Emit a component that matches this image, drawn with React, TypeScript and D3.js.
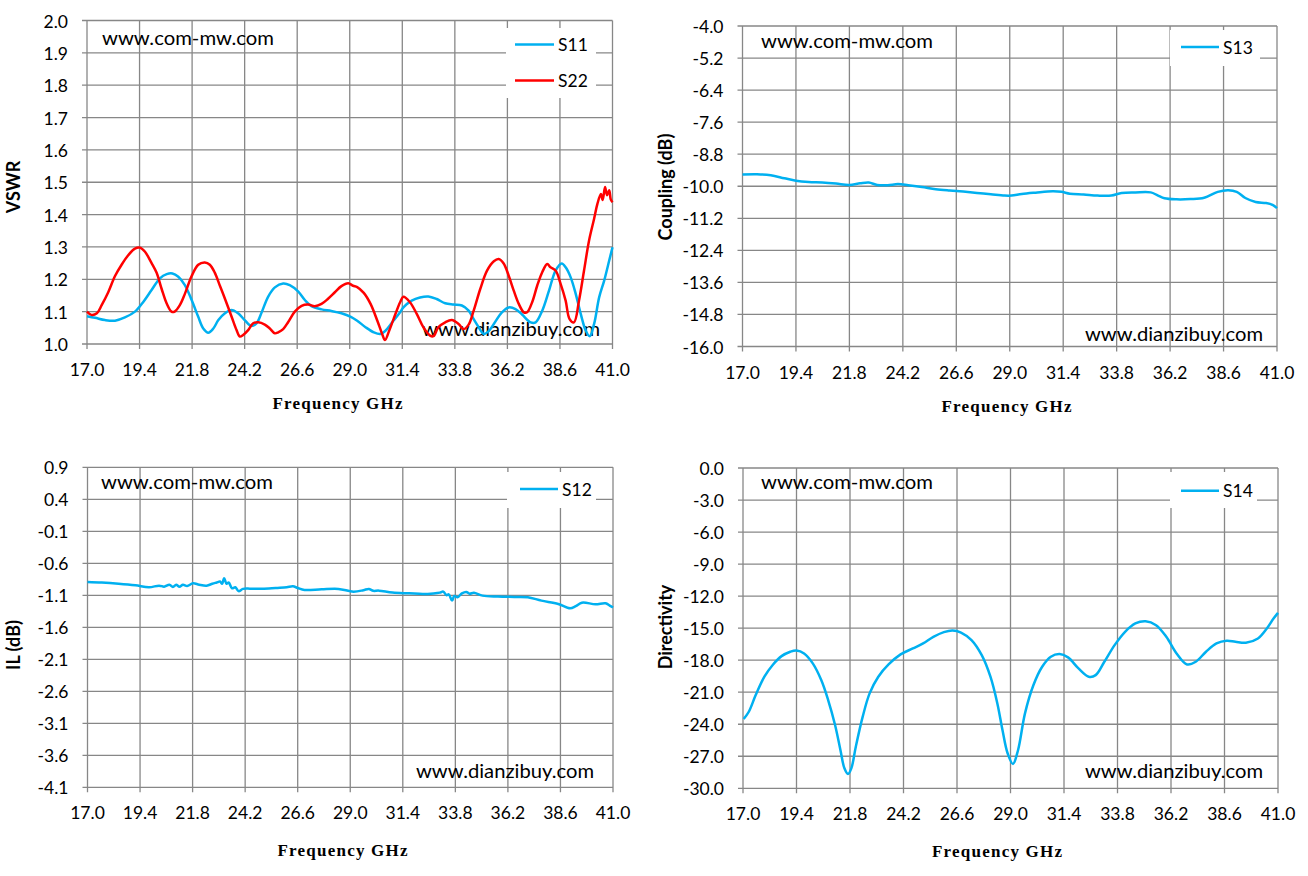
import React from 'react';
import * as d3 from 'd3';

// ---------- DATA ----------
const FREQ_TICKS = [17.0, 19.4, 21.8, 24.2, 26.6, 29.0, 31.4, 33.8, 36.2, 38.6, 41.0];
const VSWR_TICKS = [1.0, 1.1, 1.2, 1.3, 1.4, 1.5, 1.6, 1.7, 1.8, 1.9, 2.0];
const COUPLING_TICKS = [-16.0, -14.8, -13.6, -12.4, -11.2, -10.0, -8.8, -7.6, -6.4, -5.2, -4.0];
const IL_TICKS = [-4.1, -3.6, -3.1, -2.6, -2.1, -1.6, -1.1, -0.6, -0.1, 0.4, 0.9];
const DIR_TICKS = [-30.0, -27.0, -24.0, -21.0, -18.0, -15.0, -12.0, -9.0, -6.0, -3.0, 0.0];

const S11: [number, number][] = [
  [17.0, 1.086], [17.37, 1.081], [17.82, 1.074], [18.28, 1.072], [18.73, 1.082], [19.19, 1.1],
  [19.57, 1.13], [19.95, 1.167], [20.33, 1.203], [20.64, 1.216], [20.9, 1.218], [21.17, 1.208],
  [21.47, 1.182], [21.78, 1.136], [22.08, 1.084], [22.31, 1.048], [22.54, 1.035], [22.77, 1.048],
  [23.0, 1.074], [23.3, 1.095], [23.6, 1.105], [23.9, 1.095], [24.2, 1.074], [24.5, 1.056],
  [24.74, 1.064], [24.96, 1.095], [25.27, 1.146], [25.58, 1.175], [25.96, 1.187], [26.26, 1.182],
  [26.65, 1.162], [26.95, 1.136], [27.25, 1.117], [27.71, 1.107], [28.16, 1.102], [28.62, 1.095],
  [29.05, 1.084], [29.34, 1.072], [29.72, 1.052], [30.1, 1.036], [30.4, 1.031], [30.63, 1.041],
  [30.94, 1.067], [31.3, 1.098], [31.45, 1.113], [31.83, 1.134], [32.21, 1.144], [32.59, 1.147],
  [32.97, 1.139], [33.36, 1.126], [33.74, 1.122], [34.12, 1.119], [34.43, 1.103], [34.66, 1.077],
  [34.89, 1.052], [35.12, 1.031], [35.35, 1.04], [35.58, 1.062], [35.95, 1.098], [36.26, 1.113],
  [36.57, 1.108], [36.87, 1.091], [37.26, 1.067], [37.49, 1.067], [37.79, 1.103], [38.1, 1.165],
  [38.4, 1.227], [38.68, 1.249], [38.86, 1.237], [39.09, 1.206], [39.32, 1.155], [39.55, 1.093],
  [39.78, 1.041], [39.96, 1.024], [40.16, 1.062], [40.39, 1.144], [40.62, 1.196], [40.85, 1.258],
  [41.0, 1.299],
];

const S22: [number, number][] = [
  [17.0, 1.1], [17.2, 1.09], [17.45, 1.095], [17.67, 1.12], [17.97, 1.16], [18.28, 1.21],
  [18.58, 1.245], [18.89, 1.275], [19.19, 1.295], [19.42, 1.298], [19.65, 1.285], [19.95, 1.25],
  [20.18, 1.22], [20.41, 1.17], [20.64, 1.125], [20.86, 1.1], [21.0, 1.1], [21.24, 1.12],
  [21.47, 1.155], [21.78, 1.21], [22.08, 1.245], [22.38, 1.252], [22.61, 1.245], [22.84, 1.22],
  [23.07, 1.18], [23.3, 1.14], [23.6, 1.085], [23.83, 1.043], [23.98, 1.023], [24.13, 1.028],
  [24.36, 1.043], [24.59, 1.064], [24.82, 1.067], [25.12, 1.06], [25.35, 1.048], [25.58, 1.033],
  [25.73, 1.036], [25.96, 1.046], [26.19, 1.068], [26.49, 1.1], [26.8, 1.118], [27.1, 1.122],
  [27.4, 1.117], [27.71, 1.124], [28.01, 1.14], [28.32, 1.16], [28.62, 1.179], [28.93, 1.188],
  [29.15, 1.18], [29.34, 1.176], [29.64, 1.158], [29.95, 1.124], [30.26, 1.072], [30.48, 1.031],
  [30.61, 1.012], [30.8, 1.041], [31.0, 1.077], [31.3, 1.129], [31.45, 1.146], [31.75, 1.129],
  [32.06, 1.093], [32.36, 1.052], [32.67, 1.026], [32.82, 1.024], [33.05, 1.052], [33.36, 1.067],
  [33.66, 1.074], [33.97, 1.062], [34.2, 1.046], [34.43, 1.06], [34.66, 1.103], [34.96, 1.17],
  [35.27, 1.227], [35.58, 1.256], [35.8, 1.263], [36.03, 1.249], [36.26, 1.211], [36.49, 1.165],
  [36.72, 1.124], [36.95, 1.098], [37.1, 1.098], [37.33, 1.129], [37.56, 1.18], [37.79, 1.222],
  [38.02, 1.247], [38.17, 1.237], [38.4, 1.227], [38.63, 1.186], [38.86, 1.134], [39.04, 1.077],
  [39.24, 1.067], [39.47, 1.134], [39.7, 1.227], [39.93, 1.32], [40.16, 1.387], [40.31, 1.433],
  [40.47, 1.464], [40.55, 1.445], [40.66, 1.485], [40.75, 1.46], [40.85, 1.475], [40.92, 1.447],
  [41.0, 1.438],
];

const S13: [number, number][] = [
  [17.0, -9.56], [17.65, -9.55], [18.27, -9.59], [18.88, -9.7], [19.4, -9.79], [19.97, -9.84],
  [20.58, -9.86], [21.2, -9.9], [21.79, -9.95], [22.28, -9.89], [22.67, -9.86], [23.05, -9.95],
  [23.52, -9.96], [23.98, -9.92], [24.44, -9.96], [25.06, -10.03], [25.68, -10.11], [26.3, -10.16],
  [26.91, -10.2], [27.53, -10.25], [28.15, -10.3], [28.77, -10.35], [29.08, -10.35], [29.54, -10.29],
  [30.16, -10.24], [30.93, -10.19], [31.32, -10.21], [31.7, -10.28], [32.32, -10.31], [32.94, -10.35],
  [33.56, -10.35], [34.02, -10.25], [34.64, -10.23], [35.33, -10.23], [35.64, -10.34], [35.95, -10.45],
  [36.49, -10.49], [37.11, -10.48], [37.73, -10.43], [38.34, -10.21], [38.81, -10.15], [39.19, -10.21],
  [39.58, -10.44], [40.04, -10.59], [40.51, -10.63], [40.8, -10.7], [41.0, -10.82],
];

const S12: [number, number][] = [
  [17.0, -0.892], [17.65, -0.9], [18.42, -0.918], [19.19, -0.944], [19.81, -0.975], [20.27, -0.949],
  [20.5, -0.965], [20.74, -0.935], [20.9, -0.97], [21.05, -0.935], [21.2, -0.965], [21.36, -0.935],
  [21.55, -0.955], [21.82, -0.913], [22.1, -0.935], [22.44, -0.949], [22.7, -0.92], [22.9, -0.9],
  [23.05, -0.885], [23.15, -0.92], [23.24, -0.834], [23.35, -0.92], [23.45, -0.9], [23.6, -0.99],
  [23.75, -0.975], [23.9, -1.035], [24.1, -1.0], [24.44, -0.996], [25.06, -0.996], [25.68, -0.985],
  [26.1, -0.975], [26.38, -0.96], [26.6, -0.985], [26.91, -1.017], [27.69, -1.006], [28.46, -1.0],
  [29.15, -1.043], [29.6, -1.02], [29.85, -1.0], [30.05, -1.03], [30.31, -1.027], [30.93, -1.058],
  [31.7, -1.069], [32.32, -1.079], [32.8, -1.07], [33.09, -1.058], [33.25, -1.043], [33.4, -1.1],
  [33.5, -1.085], [33.65, -1.183], [33.75, -1.11], [33.9, -1.13], [34.1, -1.07], [34.3, -1.048],
  [34.45, -1.075], [34.65, -1.06], [35.04, -1.105], [35.74, -1.12], [36.49, -1.126], [37.11, -1.131],
  [37.73, -1.183], [38.5, -1.235], [39.04, -1.303], [39.3, -1.27], [39.58, -1.215], [40.2, -1.24],
  [40.66, -1.225], [40.85, -1.26], [41.0, -1.29],
];

const S14: [number, number][] = [
  [17.03, -23.51], [17.26, -22.83], [17.57, -21.27], [17.96, -19.55], [18.35, -18.4], [18.73, -17.62],
  [19.12, -17.21], [19.4, -17.09], [19.74, -17.37], [20.13, -18.3], [20.51, -19.86], [20.82, -21.73],
  [21.13, -24.07], [21.37, -26.41], [21.55, -28.13], [21.71, -28.66], [21.86, -28.13], [22.06, -26.1],
  [22.37, -23.29], [22.68, -21.11], [23.07, -19.55], [23.53, -18.4], [24.07, -17.46], [24.62, -16.9],
  [25.08, -16.43], [25.54, -15.81], [26.01, -15.37], [26.4, -15.22], [26.78, -15.41], [27.25, -16.12],
  [27.71, -17.53], [28.1, -19.55], [28.41, -22.05], [28.64, -24.54], [28.87, -26.72], [29.11, -27.72],
  [29.34, -26.41], [29.65, -22.98], [30.03, -20.33], [30.42, -18.62], [30.81, -17.68], [31.2, -17.43],
  [31.58, -17.74], [32.05, -18.77], [32.51, -19.55], [32.82, -19.4], [33.21, -18.15], [33.67, -16.59],
  [34.14, -15.34], [34.6, -14.56], [35.06, -14.35], [35.53, -14.72], [35.99, -15.81], [36.45, -17.37],
  [36.92, -18.4], [37.31, -18.15], [37.77, -17.21], [38.24, -16.43], [38.7, -16.18], [39.09, -16.28],
  [39.56, -16.37], [40.1, -15.97], [40.5, -15.03], [40.8, -14.1], [41.0, -13.57],
];

// ---------- STYLE / LAYOUT ----------
const BLUE = '#00B0F0';
const RED = '#FF0000';
const GRID = '#878787';
const SANS = 'Lato, "Open Sans", "DejaVu Sans", sans-serif';
const SERIF = '"Liberation Serif", "DejaVu Serif", serif';

type Series = { name: string; color: string; data: [number, number][] };
type PanelProps = {
  box: { l: number; r: number; t: number; b: number };
  yTicks: number[];
  yTitle: string;
  yTitlePos: [number, number];
  xTitlePos: [number, number];
  series: Series[];
  legend: { x: number; y: number; w: number; h: number; lx1: number; lx2: number; tx: number; ys: number[] };
  wm1: [number, number];
  wm2: [number, number];
};

function Panel(p: PanelProps) {
  const { box } = p;
  const x = d3.scaleLinear().domain([17, 41]).range([box.l, box.r]);
  const y = d3
    .scaleLinear()
    .domain([p.yTicks[0], p.yTicks[p.yTicks.length - 1]])
    .range([box.b, box.t]);
  const line = d3
    .line<[number, number]>()
    .x((d) => x(d[0]))
    .y((d) => y(d[1]))
    .curve(d3.curveCatmullRom.alpha(0.5));

  return (
    <g>
      {p.yTicks.map((t, i) => (
        <g key={'y' + i}>
          <line x1={box.l - 5} x2={box.r} y1={y(t)} y2={y(t)} stroke={GRID} strokeWidth={1.3} />
          <text x={box.l - 19} y={y(t) + 7} textAnchor="end" fontFamily={SANS} fontSize={17.5} fill="#000">
            {t.toFixed(1)}
          </text>
        </g>
      ))}
      {FREQ_TICKS.map((t, i) => (
        <g key={'x' + i}>
          <line x1={x(t)} x2={x(t)} y1={box.t} y2={box.b + 5} stroke={GRID} strokeWidth={1.3} />
          <text x={x(t)} y={box.b + 32} textAnchor="middle" fontFamily={SANS} fontSize={17.5} fill="#000">
            {t.toFixed(1)}
          </text>
        </g>
      ))}
      <rect x={p.legend.x} y={p.legend.y} width={p.legend.w} height={p.legend.h} fill="#fff" />
      <text x={p.wm1[0]} y={p.wm1[1]} fontFamily={SANS} fontSize={20} textLength={172} lengthAdjust="spacingAndGlyphs" fill="#000">
        www.com-mw.com
      </text>
      <text x={p.wm2[0]} y={p.wm2[1]} fontFamily={SANS} fontSize={20} textLength={178} lengthAdjust="spacingAndGlyphs" fill="#000">
        www.dianzibuy.com
      </text>
      {p.series.map((s) => (
        <path key={s.name} d={line(s.data) || ''} fill="none" stroke={s.color} strokeWidth={2.5} strokeLinejoin="round" />
      ))}
      {p.series.map((s, i) => (
        <g key={'lg' + s.name}>
          <line x1={p.legend.lx1} x2={p.legend.lx2} y1={p.legend.ys[i]} y2={p.legend.ys[i]} stroke={s.color} strokeWidth={2.5} />
          <text x={p.legend.tx} y={p.legend.ys[i] + 6.5} fontFamily={SANS} fontSize={17.5} fill="#000">
            {s.name}
          </text>
        </g>
      ))}
      <text
        x={p.xTitlePos[0]}
        y={p.xTitlePos[1]}
        fontFamily={SERIF}
        fontWeight="bold"
        fontSize={17}
        textLength={130}
        lengthAdjust="spacing"
        fill="#000"
      >
        Frequency GHz
      </text>
      <text
        transform={`translate(${p.yTitlePos[0]},${p.yTitlePos[1]}) rotate(-90)`}
        textAnchor="middle"
        fontFamily={SANS}
        fontWeight="bold"
        fontSize={18}
        fill="#000"
      >
        {p.yTitle}
      </text>
    </g>
  );
}

export default function App() {
  return (
    <svg
      width={1308}
      height={876}
      viewBox="0 0 1308 876"
      style={{ position: 'absolute', left: 0, top: 0, background: '#fff' }}
    >
      <rect x={0} y={0} width={1308} height={876} fill="#fff" />
      <Panel
        box={{ l: 87, r: 612.5, t: 20.5, b: 344 }}
        yTicks={VSWR_TICKS}
        yTitle="VSWR"
        yTitlePos={[19.5, 187]}
        xTitlePos={[272.5, 409]}
        series={[
          { name: 'S11', color: BLUE, data: S11 },
          { name: 'S22', color: RED, data: S22 },
        ]}
        legend={{ x: 506, y: 28, w: 90, h: 70, lx1: 515, lx2: 554, tx: 558, ys: [44.6, 80.5] }}
        wm1={[102, 45]}
        wm2={[422, 335.7]}
      />
      <Panel
        box={{ l: 742.5, r: 1277, t: 26, b: 346.5 }}
        yTicks={COUPLING_TICKS}
        yTitle="Coupling (dB)"
        yTitlePos={[672, 187]}
        xTitlePos={[941.5, 412]}
        series={[{ name: 'S13', color: BLUE, data: S13 }]}
        legend={{ x: 1170, y: 30, w: 90, h: 36, lx1: 1181, lx2: 1219, tx: 1223, ys: [47] }}
        wm1={[761, 48]}
        wm2={[1085, 340.6]}
      />
      <Panel
        box={{ l: 87.5, r: 613, t: 467.3, b: 787.3 }}
        yTicks={IL_TICKS}
        yTitle="IL (dB)"
        yTitlePos={[19.5, 645]}
        xTitlePos={[277.5, 856]}
        series={[{ name: 'S12', color: BLUE, data: S12 }]}
        legend={{ x: 507, y: 472, w: 89, h: 36, lx1: 520, lx2: 558, tx: 562, ys: [489] }}
        wm1={[101, 489]}
        wm2={[416, 777.7]}
      />
      <Panel
        box={{ l: 743, r: 1278, t: 468, b: 788.3 }}
        yTicks={DIR_TICKS}
        yTitle="Directivity"
        yTitlePos={[672, 627]}
        xTitlePos={[932, 857]}
        series={[{ name: 'S14', color: BLUE, data: S14 }]}
        legend={{ x: 1170, y: 472, w: 87, h: 36, lx1: 1181, lx2: 1219, tx: 1223, ys: [490.7] }}
        wm1={[761, 489.3]}
        wm2={[1085, 777.5]}
      />
    </svg>
  );
}
